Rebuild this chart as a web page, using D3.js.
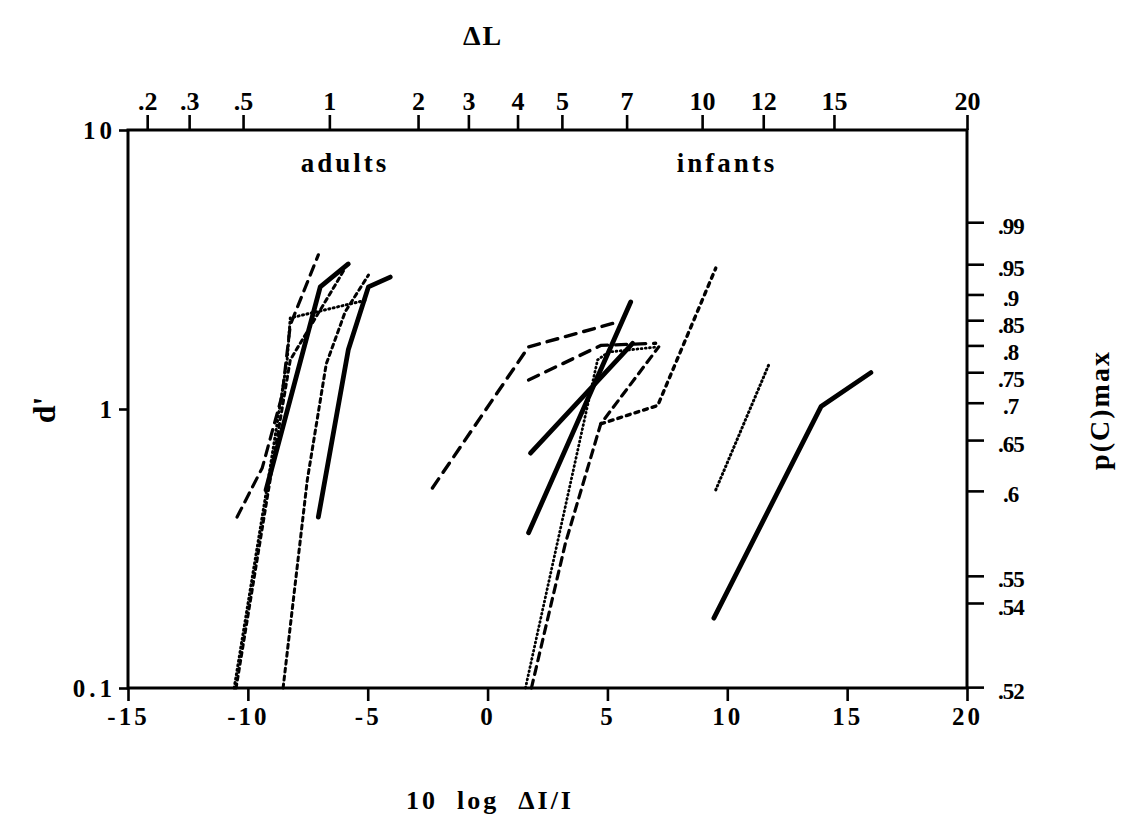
<!DOCTYPE html>
<html>
<head>
<meta charset="utf-8">
<script src="https://cdn.jsdelivr.net/npm/d3@7"></script>
<style>
  body { margin: 0; background: #fff; }
  svg text { font-family: "Liberation Serif", "DejaVu Serif", serif; font-weight: bold; fill: #000; }
</style>
</head>
<body>
<div id="chart"></div>
<script>
// tick labels
var xTicks = [-15, -10, -5, 0, 5, 10, 15, 20];
var yTicks = [0.1, 1, 10];
var topTickLabels = [".2", ".3", ".5", "1", "2", "3", "4", "5", "7", "10", "12", "15", "20"];
var topTickAt = [-14.2, -12.45, -10.2, -6.6, -2.9, -0.8, 1.25, 3.1, 5.8, 8.95, 11.5, 14.45, 20];
var pcTicks = [".99", ".95", ".9", ".85", ".8", ".75", ".7", ".65", ".6", ".55", ".54", ".52"];

// psychometric functions: x = 10 log dI/I, y = d'
// adults
var adultSolidA = [[-9.24, 0.513], [-6.98, 2.74], [-5.81, 3.31]];
var adultSolidB = [[-7.06, 0.41], [-5.81, 1.63], [-4.97, 2.74], [-4.06, 2.97]];
var adultShortDash = [[-8.53, 0.1], [-7.52, 0.557], [-6.73, 1.45], [-5.94, 2.23], [-4.97, 3.02]];
var adultDotted = [[-10.57, 0.1], [-9.15, 0.557], [-8.36, 1.5], [-8.23, 2.12], [-5.02, 2.46]];
var adultDashDot = [[-10.49, 0.1], [-9.07, 0.557], [-8.23, 1.5], [-6.48, 2.67], [-5.94, 3.2]];
var adultDashed = [[-10.45, 0.41], [-9.4, 0.615], [-8.57, 1.12], [-8.23, 2.0], [-7.06, 3.57]];
// infants
var infDashedA = [[-2.3, 0.521], [1.71, 1.67], [5.43, 2.05]];
var infDashedB = [[1.71, 1.27], [4.72, 1.69], [7.01, 1.72]];
var infSolidA = [[1.79, 0.695], [6.05, 1.72]];
var infSolidB = [[1.71, 0.36], [5.97, 2.42]];
var infDottedA = [[1.58, 0.1], [4.59, 1.5], [5.05, 1.6], [7.1, 1.67]];
var infDashedC = [[1.83, 0.1], [3.25, 0.331], [4.72, 0.884], [7.14, 1.67]];
var infShortDash = [[4.72, 0.884], [7.1, 1.03], [9.52, 3.2]];
var infDottedB = [[9.52, 0.513], [11.73, 1.44]];
var infSolidC = [[9.44, 0.178], [13.91, 1.02], [15.99, 1.35]];

var series = [
  {pts: adultSolidA, w: 4.8, dash: null},
  {pts: adultSolidB, w: 4.8, dash: null},
  {pts: adultShortDash, w: 3, dash: "4,4"},
  {pts: adultDotted, w: 3, dash: "1,3.5"},
  {pts: adultDashDot, w: 3, dash: "4,4"},
  {pts: adultDashed, w: 3.2, dash: "10,7"},
  {pts: infDashedA, w: 3.4, dash: "11,8"},
  {pts: infDashedB, w: 3.4, dash: "11,8"},
  {pts: infSolidA, w: 4.8, dash: null},
  {pts: infSolidB, w: 4.8, dash: null},
  {pts: infDottedA, w: 2.8, dash: "0.8,3.4"},
  {pts: infDashedC, w: 3.2, dash: "8,6"},
  {pts: infShortDash, w: 3.4, dash: "4,5"},
  {pts: infDottedB, w: 3, dash: "0.8,3.4"},
  {pts: infSolidC, w: 4.8, dash: null}
];

var width = 1123, height = 817,
    plotL = 128, plotR = 967, plotT = 130, plotB = 688;

var x = d3.scaleLinear().domain([-15, 20]).range([plotL, plotR]);
var y = d3.scaleLog().domain([0.1, 10]).range([plotB, plotT]);

// normal cdf and its inverse (bisection), for p(C)max = Phi(d'/2)
function phi(z) {
  var t = 1 / (1 + 0.3275911 * Math.abs(z) / Math.SQRT2);
  var e = 1 - (((((1.061405429 * t - 1.453152027) * t) + 1.421413741) * t - 0.284496736) * t + 0.254829592) * t * Math.exp(-z * z / 2);
  return z >= 0 ? (1 + e) / 2 : (1 - e) / 2;
}
function probit(p) {
  var lo = -6, hi = 6;
  for (var i = 0; i < 60; i++) {
    var m = (lo + hi) / 2;
    if (phi(m) < p) lo = m; else hi = m;
  }
  return (lo + hi) / 2;
}

var svg = d3.select("#chart").append("svg")
    .attr("width", width).attr("height", height);

// frame
svg.append("rect")
    .attr("x", plotL).attr("y", plotT)
    .attr("width", plotR - plotL).attr("height", plotB - plotT)
    .attr("fill", "none").attr("stroke", "#000").attr("stroke-width", 3);

function styleAxis(g) {
  g.select(".domain").remove();
  g.selectAll(".tick line").attr("stroke", "#000").attr("stroke-width", 2.6);
  g.selectAll(".tick text").style("font-size", "25px").attr("fill", "#000");
}

// bottom axis
svg.append("g")
    .attr("transform", "translate(0," + plotB + ")")
    .call(d3.axisBottom(x).tickValues(xTicks).tickSize(13).tickPadding(6)
      .tickFormat(function(d) { return d < 0 ? "-" + (-d) : "" + d; }))
    .call(styleAxis)
    .selectAll(".tick text").style("letter-spacing", "3px");

// left axis
svg.append("g")
    .attr("transform", "translate(" + plotL + ",0)")
    .call(d3.axisLeft(y).tickValues(yTicks).tickSize(9).tickPadding(3)
      .tickFormat(function(d) { return d === 0.1 ? "0.1" : "" + d; }))
    .call(styleAxis)
    .selectAll(".tick text").style("letter-spacing", "4px");

// top axis (delta L)
svg.append("g")
    .attr("transform", "translate(0," + plotT + ")")
    .call(d3.axisTop(x).tickValues(topTickAt).tickSize(15).tickPadding(5)
      .tickFormat(function(d, i) { return topTickLabels[i]; }))
    .call(styleAxis)
    .selectAll(".tick text").style("font-size", "26px");

// right axis p(C)max
var pcY = pcTicks.map(function(d) { return y(2 * probit(+d)); });
// labels sit just below their ticks, pushed apart where ticks crowd
var pcLabelY = [], prev = -Infinity;
pcY.forEach(function(v) {
  var ly = Math.max(v + 3, prev + 27);
  pcLabelY.push(ly);
  prev = ly;
});

var pcAxis = svg.append("g").attr("class", "pc");
pcAxis.selectAll("line").data(pcTicks).enter().append("line")
    .attr("x1", plotR).attr("x2", plotR + 17)
    .attr("y1", function(d, i) { return pcY[i]; })
    .attr("y2", function(d, i) { return pcY[i]; })
    .attr("stroke", "#000").attr("stroke-width", 2.6);
pcAxis.selectAll("text").data(pcTicks).enter().append("text")
    .attr("x", function(d) { return d.length === 2 ? plotR + 36 : plotR + 31; })
    .attr("y", function(d, i) { return pcLabelY[i]; })
    .attr("dy", "0.35em")
    .style("font-size", "23px")
    .style("letter-spacing", "-1px")
    .text(function(d) { return d; });

// data lines
var line = d3.line()
    .x(function(d) { return x(d[0]); })
    .y(function(d) { return y(d[1]); });

svg.append("g").selectAll("path").data(series).enter().append("path")
    .attr("d", function(d) { return line(d.pts); })
    .attr("fill", "none")
    .attr("stroke", "#000")
    .attr("stroke-width", function(d) { return d.w; })
    .attr("stroke-linecap", "round")
    .attr("stroke-linejoin", "round")
    .attr("stroke-dasharray", function(d) { return d.dash; });

// labels
svg.append("text").attr("x", 345).attr("y", 172).attr("text-anchor", "middle")
    .style("font-size", "27px").style("letter-spacing", "3px").text("adults");
svg.append("text").attr("x", 727).attr("y", 172).attr("text-anchor", "middle")
    .style("font-size", "27px").style("letter-spacing", "3px").text("infants");

svg.append("text").attr("x", 483).attr("y", 45).attr("text-anchor", "middle")
    .style("font-size", "28px").style("letter-spacing", "2px").text("\u0394L");

svg.append("text").attr("x", 490).attr("y", 809).attr("text-anchor", "middle")
    .style("font-size", "26px").style("letter-spacing", "3px").attr("xml:space", "preserve")
    .text("10  log  \u0394I/I");

svg.append("text")
    .attr("transform", "translate(55,410) rotate(-90)")
    .attr("text-anchor", "middle")
    .style("font-size", "32px").text("d'");

svg.append("text")
    .attr("transform", "translate(1109,410) rotate(-90)")
    .attr("text-anchor", "middle")
    .style("font-size", "28px").style("letter-spacing", "2px").text("p(C)max");
</script>
</body>
</html>
